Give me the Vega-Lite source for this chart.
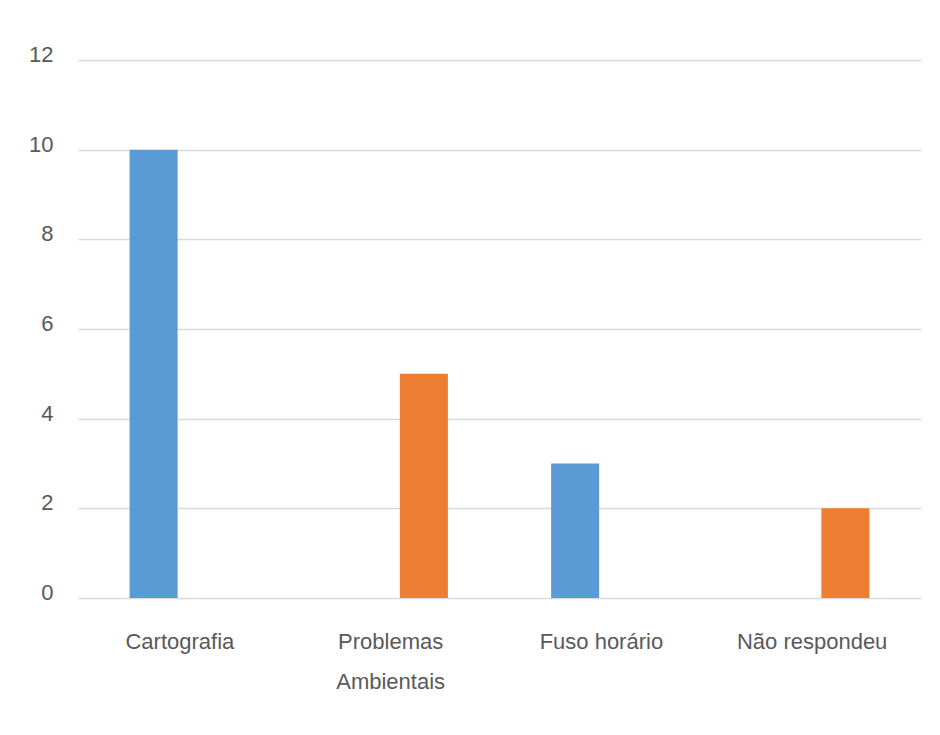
{
  "$schema": "https://vega.github.io/schema/vega-lite/v6.json",
  "width": 843,
  "height": 538,
  "autosize": {"type": "none"},
  "padding": {"left": 78, "top": 60, "right": 19, "bottom": 137},
  "background": "white",
  "data": {
    "values": [
      {"tema": "Cartografia", "serie": "Série 1", "valor": 10},
      {"tema": "Problemas Ambientais", "serie": "Série 2", "valor": 5},
      {"tema": "Fuso horário", "serie": "Série 1", "valor": 3},
      {"tema": "Não respondeu", "serie": "Série 2", "valor": 2}
    ]
  },
  "mark": {"type": "bar"},
  "encoding": {
    "x": {
      "field": "tema",
      "type": "nominal",
      "sort": null,
      "scale": {"paddingInner": 0, "paddingOuter": 0},
      "axis": {
        "title": null,
        "domain": false,
        "ticks": false,
        "labelAngle": 0,
        "labelBaseline": "top",
        "labelPadding": 33,
        "labelOffset": -3.5,
        "labelFontSize": 22,
        "labelLineHeight": 40,
        "labelFont": "Liberation Sans",
        "labelColor": "#595959",
        "labelOverlap": false,
        "labelLimit": 300,
        "labelExpr": "datum.label == 'Problemas Ambientais' ? ['Problemas', 'Ambientais'] : datum.label"
      }
    },
    "xOffset": {
      "field": "serie",
      "type": "nominal",
      "scale": {"domain": ["Série 1", "Série 2"], "paddingInner": 0.193, "paddingOuter": 0.8675}
    },
    "y": {
      "field": "valor",
      "type": "quantitative",
      "scale": {"domain": [0, 12], "nice": false},
      "axis": {
        "title": null,
        "values": [0, 2, 4, 6, 8, 10, 12],
        "domain": false,
        "ticks": false,
        "grid": true,
        "gridColor": "#d9d9d9",
        "gridWidth": 1.5,
        "labelPadding": 25,
        "labelFontSize": 22,
        "labelFont": "Liberation Sans",
        "labelColor": "#595959",
        "labelBaseline": "alphabetic",
        "labelOffset": 1.5
      }
    },
    "color": {
      "field": "serie",
      "type": "nominal",
      "scale": {"domain": ["Série 1", "Série 2"], "range": ["#5B9BD5", "#ED7D31"]},
      "legend": null
    }
  },
  "config": {"view": {"stroke": null}}
}
